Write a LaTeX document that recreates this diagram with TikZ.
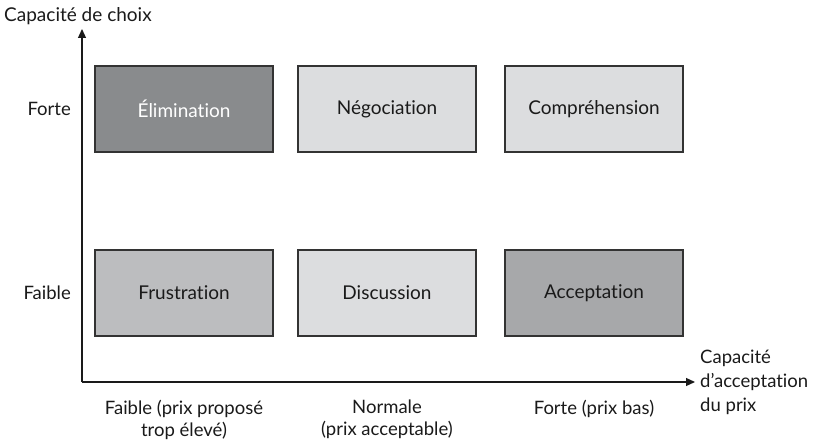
\documentclass[tikz,border=0pt]{standalone}
\usepackage{fontspec}
\setmainfont{Lato}[Ligatures={NoCommon}]
\usetikzlibrary{arrows.meta}
\definecolor{boxdark}{HTML}{898B8D}
\definecolor{boxmid}{HTML}{BCBDBF}
\definecolor{boxmd}{HTML}{A7A8AA}
\definecolor{boxlight}{HTML}{DCDDDF}
\definecolor{edge}{HTML}{333333}
\definecolor{txt}{HTML}{1A1A1A}
\tikzset{
  cell/.style={draw=edge, line width=1.3pt, minimum width=178pt, minimum height=86pt, inner sep=0pt, text=txt, font=\fontsize{19}{22}\selectfont},
  axis/.style={line width=1.2pt, draw=txt, -{Triangle[length=9pt,width=8pt]}},
  lbl/.style={text=txt, font=\fontsize{18.5}{22}\selectfont, inner sep=0pt, align=center},
}
\begin{document}
\begin{tikzpicture}[x=1pt,y=-1pt]
\useasboundingbox (0,0) rectangle (820,444);
\coordinate (O) at (82,382);
\coordinate (Ytop) at (82,29);
\coordinate (Xend) at (695,382);
\draw[axis] (O) -- (Ytop);
\draw[axis] (O) -- (Xend);
\node[lbl, anchor=west, font=\fontsize{19}{22}\selectfont] (ylab) at (4,16) {Capacité de choix};
\node[lbl, anchor=west, align=left, font=\fontsize{18.5}{24}\selectfont] (xlab) at (700,382) {Capacité\\d’acceptation\\du prix};
\node[lbl, anchor=east] (forte) at (71,109) {Forte};
\node[lbl, anchor=east] (faible) at (71,293) {Faible};
\node[cell, fill=boxdark, text=white] (elim) at (184,109) {Élimination};
\node[cell, fill=boxlight] (nego) at (387,109) {Négociation};
\node[cell, fill=boxlight] (compr) at (594,109) {Compréhension};
\node[cell, fill=boxmid] (frus) at (184,293) {Frustration};
\node[cell, fill=boxlight] (disc) at (387,293) {Discussion};
\node[cell, fill=boxmd] (acc) at (594,293) {Acceptation};
\node[lbl, anchor=north] (xl1) at (184,400) {Faible (prix proposé\\trop élevé)};
\node[lbl, anchor=north] (xl2) at (387,400) {Normale\\(prix acceptable)};
\node[lbl, anchor=north] (xl3) at (594,400) {Forte (prix bas)};
\end{tikzpicture}
\end{document}
